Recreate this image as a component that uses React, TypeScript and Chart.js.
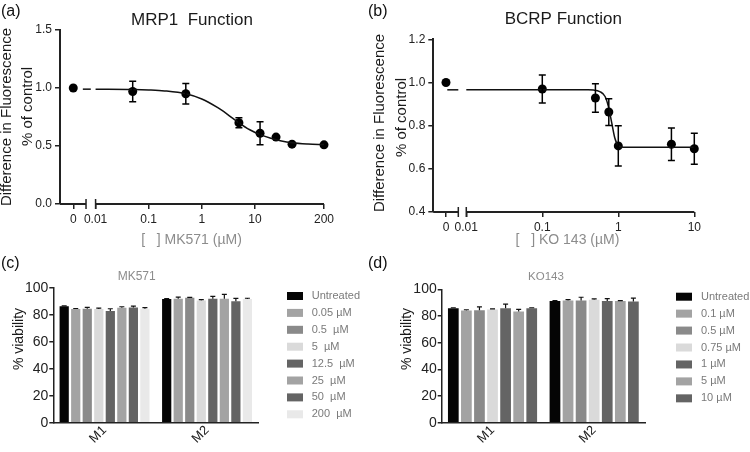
import React, { useEffect, useRef } from "react";
import { Chart, registerables } from "chart.js";

Chart.register(...registerables);

const FONT = "'Liberation Sans', Arial, Helvetica, sans-serif";
Chart.defaults.font.family = FONT;
Chart.defaults.color = "#222";

// ---------- (a) MRP1 function ----------
const A_CONC = [0, 0.05, 0.5, 5, 12.5, 25, 50, 200];
const A_MEAN = [1.0, 0.97, 0.95, 0.7, 0.61, 0.577, 0.516, 0.51];
const A_ERR = [0, 0.088, 0.088, 0.043, 0.1, 0, 0, 0];
const A_FIT_CONC = [0.01, 0.05, 0.1, 0.2, 0.5, 1, 2, 3, 5, 8, 12.5, 20, 30, 50, 100, 200];
const A_FIT_VAL = [0.99, 0.987, 0.983, 0.975, 0.95, 0.905, 0.83, 0.775, 0.7, 0.64, 0.598, 0.566, 0.546, 0.528, 0.517, 0.512];
const A_STUB = [-2.24, -2.09];
const A_X_TICKS = [0, 0.01, 0.1, 1, 10, 200];
const A_X_LABELS = ["0", "0.01", "0.1", "1", "10", "200"];

// ---------- (b) BCRP function ----------
const B_CONC = [0, 0.1, 0.5, 0.75, 1, 5, 10];
const B_MEAN = [1.0, 0.97, 0.928, 0.863, 0.706, 0.714, 0.693];
const B_ERR = [0, 0.065, 0.066, 0.062, 0.093, 0.075, 0.072];
const B_FIT_CONC = [0.01, 0.1, 0.4, 0.47, 0.57, 0.67, 0.74, 0.82, 0.9, 1.0, 1.16, 2, 10];
const B_FIT_VAL = [0.966, 0.966, 0.966, 0.965, 0.958, 0.935, 0.889, 0.813, 0.743, 0.708, 0.7, 0.7, 0.7];
const B_STUB = [-2.25, -2.105];
const B_X_TICKS = [0, 0.01, 0.1, 1, 10];
const B_X_LABELS = ["0", "0.01", "0.1", "1", "10"];

// ---------- (c) MK571 viability ----------
const GROUPS = ["M1", "M2"];
const C_SERIES = ["Untreated", "0.05 µM", "0.5  µM", "5  µM", "12.5  µM", "25  µM", "50  µM", "200  µM"];
const C_M1 = [86.2, 84.2, 84.5, 84.2, 82.7, 85.2, 85.3, 84.5];
const C_M2 = [91.6, 91.8, 92.6, 90.6, 91.8, 91.8, 89.9, 91.6];
const C_M1_ERR = [0.3, 0.4, 1.0, 0.7, 1.7, 0.7, 1.0, 0.7];
const C_M2_ERR = [0.4, 1.2, 0.3, 0.5, 1.8, 3.2, 2.2, 0.6];
const C_COLORS = ["#050505", "#a3a3a3", "#8a8a8a", "#dadada", "#646464", "#a3a3a3", "#646464", "#e9e9e9"];

// ---------- (d) KO143 viability ----------
const D_SERIES = ["Untreated", "0.1 µM", "0.5 µM", "0.75 µM", "1 µM", "5 µM", "10 µM"];
const D_M1 = [86.0, 84.3, 84.5, 85.0, 86.0, 83.5, 86.0];
const D_M2 = [91.3, 91.8, 91.8, 92.3, 91.3, 91.3, 91.0];
const D_M1_ERR = [0.3, 0.5, 2.5, 0.5, 3.0, 1.6, 0.3];
const D_M2_ERR = [0.3, 0.6, 2.4, 0.6, 1.8, 0.4, 2.5];
const D_COLORS = ["#050505", "#a3a3a3", "#8a8a8a", "#dadada", "#646464", "#a3a3a3", "#646464"];

type Txt = { t: string; x: number; y: number; s: number; c: string; r?: number; a?: CanvasTextAlign };

const textPlugin = (items: Txt[]) => ({
  id: "texts",
  afterDraw(chart: any) {
    const ctx = chart.ctx;
    for (const it of items) {
      ctx.save();
      ctx.translate(it.x, it.y);
      if (it.r) ctx.rotate(it.r);
      ctx.font = `${it.s}px ${FONT}`;
      ctx.fillStyle = it.c;
      ctx.textAlign = it.a || "center";
      ctx.textBaseline = "middle";
      ctx.fillText(it.t, 0, 0);
      ctx.restore();
    }
  },
});

const brokenAxis = (breakEnd: number, segStart: number) => ({
  id: "brokenAxis",
  afterDraw(chart: any) {
    const { ctx, chartArea } = chart;
    const x = chart.scales.x;
    const y0 = chartArea.bottom;
    const xb = x.getPixelForValue(breakEnd);
    const xs = x.getPixelForValue(segStart);
    ctx.save();
    ctx.strokeStyle = "#222";
    ctx.lineWidth = 2;
    ctx.beginPath();
    ctx.moveTo(chartArea.left, y0);
    ctx.lineTo(xb, y0);
    ctx.moveTo(xs, y0);
    ctx.lineTo(chartArea.right, y0);
    ctx.stroke();
    ctx.lineWidth = 1.5;
    ctx.beginPath();
    ctx.moveTo(xb, y0 - 5);
    ctx.lineTo(xb, y0 + 5);
    ctx.moveTo(xs, y0 - 5);
    ctx.lineTo(xs, y0 + 5);
    ctx.stroke();
    ctx.restore();
  },
});

const pointErrors = (dsIndex: number, errs: number[]) => ({
  id: "pointErrors",
  afterDatasetsDraw(chart: any) {
    const { ctx } = chart;
    const ys = chart.scales.y;
    const meta = chart.getDatasetMeta(dsIndex);
    const ds = chart.data.datasets[dsIndex];
    ctx.save();
    ctx.strokeStyle = "#000";
    ctx.lineWidth = 1.5;
    meta.data.forEach((el: any, i: number) => {
      const e = errs[i];
      if (!e) return;
      const v = ds.data[i].y;
      const y1 = ys.getPixelForValue(v + e);
      const y2 = ys.getPixelForValue(v - e);
      ctx.beginPath();
      ctx.moveTo(el.x, y1);
      ctx.lineTo(el.x, y2);
      ctx.moveTo(el.x - 3.5, y1);
      ctx.lineTo(el.x + 3.5, y1);
      ctx.moveTo(el.x - 3.5, y2);
      ctx.lineTo(el.x + 3.5, y2);
      ctx.stroke();
    });
    ctx.restore();
  },
});

const barErrors = (errs: number[][]) => ({
  id: "barErrors",
  afterDatasetsDraw(chart: any) {
    const { ctx } = chart;
    const ys = chart.scales.y;
    ctx.save();
    ctx.strokeStyle = "#111";
    ctx.lineWidth = 1.2;
    chart.data.datasets.forEach((ds: any, i: number) => {
      const meta = chart.getDatasetMeta(i);
      meta.data.forEach((el: any, j: number) => {
        const e = errs[i][j];
        const yE = ys.getPixelForValue(ds.data[j] + e);
        ctx.beginPath();
        ctx.moveTo(el.x, el.y);
        ctx.lineTo(el.x, yE);
        ctx.moveTo(el.x - 2.5, yE);
        ctx.lineTo(el.x + 2.5, yE);
        ctx.stroke();
      });
    });
    ctx.restore();
  },
});

const swatchLegend = (bx: number, y0: number, pitch: number, tx: number) => ({
  id: "swatchLegend",
  afterDraw(chart: any) {
    const { ctx } = chart;
    ctx.save();
    chart.data.datasets.forEach((ds: any, i: number) => {
      const yy = y0 + i * pitch;
      ctx.fillStyle = ds.backgroundColor;
      ctx.fillRect(bx, yy - 4, 16, 8);
      ctx.fillStyle = "#7a7a7a";
      ctx.font = `11px ${FONT}`;
      ctx.textAlign = "left";
      ctx.textBaseline = "middle";
      ctx.fillText(ds.label, tx, yy);
    });
    ctx.restore();
  },
});

type DoseSpec = {
  conc: number[]; mean: number[]; err: number[];
  fitConc: number[]; fitVal: number[]; stub: number[];
  xTicks: number[]; xLabels: string[];
  axMin: number; zero: number; breakEnd: number; axMax: number;
  yMin: number; yMax: number; yStep: number;
  pad: { top: number; right: number }; yWidth: number; xHeight: number;
  texts: Txt[];
};

function doseConfig(p: DoseSpec): any {
  const pos = (c: number) => (c === 0 ? p.zero : Math.log10(c));
  return {
    type: "scatter",
    data: {
      datasets: [
        {
          data: p.fitConc.map((c, i) => ({ x: Math.log10(c), y: p.fitVal[i] })),
          showLine: true, borderColor: "#111", borderWidth: 1.5, pointRadius: 0,
          cubicInterpolationMode: "monotone", clip: false,
        },
        {
          data: p.stub.map((x) => ({ x, y: p.fitVal[0] })),
          showLine: true, borderColor: "#111", borderWidth: 1.5, pointRadius: 0, clip: false,
        },
        {
          data: p.conc.map((c, i) => ({ x: pos(c), y: p.mean[i] })),
          showLine: false, pointRadius: 4.5, pointBackgroundColor: "#000",
          pointBorderColor: "#000", pointBorderWidth: 0, clip: false,
        },
      ],
    },
    options: {
      animation: false,
      responsive: false,
      layout: { padding: { left: 0, top: p.pad.top, right: p.pad.right, bottom: 0 } },
      plugins: { legend: { display: false }, tooltip: { enabled: false }, title: { display: false } },
      scales: {
        x: {
          type: "linear", min: p.axMin, max: p.axMax,
          afterBuildTicks: (s: any) => { s.ticks = p.xTicks.map((c) => ({ value: pos(c) })); },
          ticks: { callback: (_v: any, i: number) => p.xLabels[i], font: { size: 12 }, color: "#222", padding: 3, maxRotation: 0, autoSkip: false },
          grid: { display: true, drawOnChartArea: false, drawTicks: true, tickLength: 5, color: "#222", lineWidth: 1.5 },
          border: { display: false },
          afterFit: (s: any) => { s.height = p.xHeight; },
        },
        y: {
          min: p.yMin, max: p.yMax,
          ticks: { stepSize: p.yStep, callback: (v: any) => Number(v).toFixed(1), font: { size: 12 }, color: "#222", padding: 3 },
          grid: { drawOnChartArea: false, tickLength: 5, color: "#222", lineWidth: 1.5 },
          border: { color: "#222", width: 2 },
          afterFit: (s: any) => { s.width = p.yWidth; },
        },
      },
    },
    plugins: [brokenAxis(p.breakEnd, -2), pointErrors(2, p.err), textPlugin(p.texts)],
  };
}

type BarSpec = {
  series: string[]; m1: number[]; m2: number[]; e1: number[]; e2: number[]; colors: string[];
  barPct: number;
  pad: { top: number; right: number }; yWidth: number; xHeight: number;
  legend: { bx: number; y0: number; pitch: number; tx: number };
  texts: Txt[];
};

function barConfig(p: BarSpec): any {
  return {
    type: "bar",
    data: {
      labels: GROUPS,
      datasets: p.series.map((s, i) => ({
        label: s, data: [p.m1[i], p.m2[i]], backgroundColor: p.colors[i], borderWidth: 0,
        categoryPercentage: 0.9, barPercentage: p.barPct,
      })),
    },
    options: {
      animation: false,
      responsive: false,
      layout: { padding: { left: 0, top: p.pad.top, right: p.pad.right, bottom: 0 } },
      plugins: { legend: { display: false }, tooltip: { enabled: false } },
      scales: {
        x: {
          grid: { display: false, drawTicks: false },
          border: { color: "#222", width: 1.5 },
          ticks: { font: { size: 13 }, color: "#222", minRotation: 45, maxRotation: 45, padding: 0 },
          afterFit: (s: any) => { s.height = p.xHeight; },
        },
        y: {
          min: 0, max: 100,
          ticks: { stepSize: 20, font: { size: 14 }, color: "#222", padding: 1 },
          grid: { drawOnChartArea: false, tickLength: 4, color: "#222", lineWidth: 1.5 },
          border: { color: "#222", width: 1.5 },
          afterFit: (s: any) => { s.width = p.yWidth; },
        },
      },
    },
    plugins: [
      barErrors(p.series.map((_, i) => [p.e1[i], p.e2[i]])),
      swatchLegend(p.legend.bx, p.legend.y0, p.legend.pitch, p.legend.tx),
      textPlugin(p.texts),
    ],
  };
}

const ROT = -Math.PI / 2;
const DARK = "#1a1a1a";
const GREY = "#8c8c8c";

const buildA = () =>
  doseConfig({
    conc: A_CONC, mean: A_MEAN, err: A_ERR, fitConc: A_FIT_CONC, fitVal: A_FIT_VAL, stub: A_STUB,
    xTicks: A_X_TICKS, xLabels: A_X_LABELS,
    axMin: -2.67, zero: -2.42, breakEnd: -2.18, axMax: Math.log10(200),
    yMin: 0, yMax: 1.5, yStep: 0.5,
    pad: { top: 30, right: 51 }, yWidth: 60, xHeight: 46,
    texts: [
      { t: "(a)", x: 1, y: 12, s: 16, c: "#111", a: "left" },
      { t: "MRP1  Function", x: 192, y: 20, s: 17, c: DARK },
      { t: "Difference in Fluorescence", x: 7, y: 117, s: 15, c: DARK, r: ROT },
      { t: "% of control", x: 27.5, y: 106.5, s: 15, c: DARK, r: ROT },
      { t: "[   ] MK571 (µM)", x: 191.5, y: 240, s: 14, c: GREY },
    ],
  });

const buildB = () =>
  doseConfig({
    conc: B_CONC, mean: B_MEAN, err: B_ERR, fitConc: B_FIT_CONC, fitVal: B_FIT_VAL, stub: B_STUB,
    xTicks: B_X_TICKS, xLabels: B_X_LABELS,
    axMin: -2.434, zero: -2.267, breakEnd: -2.105, axMax: 1,
    yMin: 0.4, yMax: 1.2, yStep: 0.2,
    pad: { top: 39.3, right: 55.7 }, yWidth: 73.3, xHeight: 38,
    texts: [
      { t: "(b)", x: 8, y: 12, s: 16, c: "#111", a: "left" },
      { t: "BCRP Function", x: 203.3, y: 19, s: 17, c: DARK },
      { t: "Difference in Fluorescence", x: 20, y: 123, s: 15, c: DARK, r: ROT },
      { t: "% of control", x: 42, y: 117.5, s: 15, c: DARK, r: ROT },
      { t: "[   ] KO 143 (µM)", x: 207.5, y: 240, s: 14, c: GREY },
    ],
  });

const buildC = () =>
  barConfig({
    series: C_SERIES, m1: C_M1, m2: C_M2, e1: C_M1_ERR, e2: C_M2_ERR, colors: C_COLORS,
    barPct: 0.8,
    pad: { top: 62.7, right: 116.7 }, yWidth: 53.3, xHeight: 29.3,
    legend: { bx: 287, y0: 71, pitch: 16.9, tx: 311.7 },
    texts: [
      { t: "(c)", x: 1, y: 38.3, s: 16, c: "#111", a: "left" },
      { t: "MK571", x: 136.7, y: 51.7, s: 12, c: GREY },
      { t: "% viability", x: 19, y: 114, s: 14, c: DARK, r: ROT },
    ],
  });

const buildD = () =>
  barConfig({
    series: D_SERIES, m1: D_M1, m2: D_M2, e1: D_M1_ERR, e2: D_M2_ERR, colors: D_COLORS,
    barPct: 0.82,
    pad: { top: 64.5, right: 105 }, yWidth: 81.7, xHeight: 29.3,
    legend: { bx: 316, y0: 71.7, pitch: 16.94, tx: 341 },
    texts: [
      { t: "(d)", x: 8, y: 38.3, s: 16, c: "#111", a: "left" },
      { t: "KO143", x: 186, y: 51.7, s: 11.5, c: GREY },
      { t: "% viability", x: 46.7, y: 114, s: 14, c: DARK, r: ROT },
    ],
  });

function ChartCanvas(props: { left: number; top: number; width: number; height: number; build: () => any }) {
  const ref = useRef<HTMLCanvasElement | null>(null);
  useEffect(() => {
    if (!ref.current) return;
    const chart = new Chart(ref.current, props.build());
    return () => chart.destroy();
  }, []);
  return (
    <canvas
      ref={ref}
      width={props.width}
      height={props.height}
      style={{ position: "absolute", left: props.left, top: props.top, width: props.width, height: props.height, display: "block" }}
    />
  );
}

export default function App() {
  return (
    <div style={{ position: "absolute", left: 0, top: 0, width: 750, height: 452, background: "#fff", overflow: "hidden" }}>
      <ChartCanvas left={0} top={0} width={375} height={250} build={buildA} />
      <ChartCanvas left={360} top={0} width={390} height={250} build={buildB} />
      <ChartCanvas left={0} top={225} width={375} height={227} build={buildC} />
      <ChartCanvas left={360} top={225} width={390} height={227} build={buildD} />
    </div>
  );
}
